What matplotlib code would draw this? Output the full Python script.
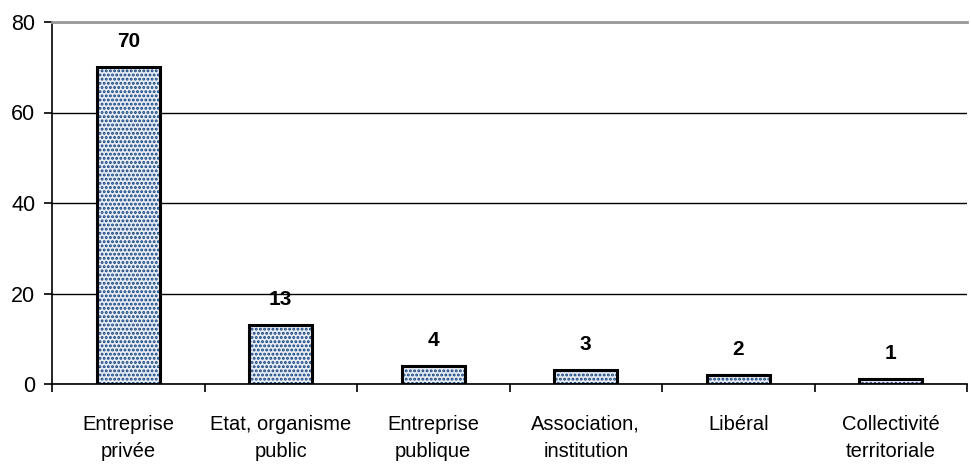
import matplotlib.pyplot as plt
import matplotlib as mpl

plt.rcParams['font.family'] = ['Liberation Sans', 'DejaVu Sans']
mpl.rcParams['hatch.color'] = '#123f7a'
mpl.rcParams['hatch.linewidth'] = 1.4

categories = ["Entreprise\nprivée", "Etat, organisme\npublic", "Entreprise\npublique",
              "Association,\ninstitution", "Libéral", "Collectivité\nterritoriale"]
values = [70, 13, 4, 3, 2, 1]

fig = plt.figure(figsize=(9.71, 4.66), dpi=100)
ax = fig.add_axes([52 / 971, 1 - 384 / 466, 915 / 971, 362 / 466])

x = list(range(len(values)))
ax.bar(x, values, width=0.41, color='#e6edf6', hatch='....', edgecolor='#123f7a',
       linewidth=0, zorder=3)
ax.bar(x, values, width=0.41, fill=False, edgecolor='black', linewidth=2.2, zorder=4)

for xi, v in zip(x, values):
    ax.text(xi, v + 3.6, str(v), ha='center', va='bottom', fontsize=15, fontweight='bold')

ax.set_xlim(-0.5, len(values) - 0.5)
ax.set_ylim(0, 80)
ax.set_yticks([0, 20, 40, 60, 80])
ax.yaxis.grid(True, color='black', linewidth=1, zorder=0)
ax.set_axisbelow(True)

ax.set_xticks([i - 0.5 for i in range(len(values) + 1)])
ax.set_xticklabels([])
ax.set_xticks(x, minor=True)
ax.set_xticklabels(categories, minor=True, fontsize=14.5, linespacing=1.55)
ax.tick_params(axis='x', which='minor', length=0, pad=22)
ax.tick_params(axis='x', which='major', length=6, width=1.2, direction='out')
ax.tick_params(axis='y', length=6, width=1.2, direction='out', labelsize=15.5, pad=6)

ax.spines['top'].set_color('#999999')
ax.spines['top'].set_linewidth(2)
ax.spines['right'].set_visible(False)
ax.spines['left'].set_linewidth(1.2)
ax.spines['bottom'].set_linewidth(1.2)

fig.savefig('out.png', dpi=100)
